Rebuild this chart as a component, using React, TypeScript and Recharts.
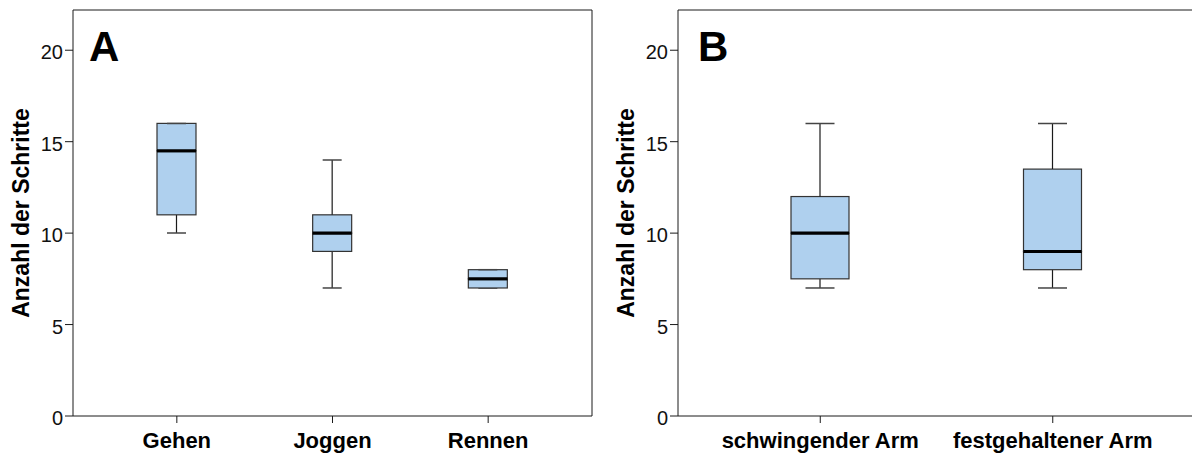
import { ComposedChart, Bar, XAxis, YAxis, CartesianGrid } from "recharts";

// Panel A: Gangart
const catsA = ["Gehen", "Joggen", "Rennen"];
const minA = [10, 7, 7];
const q1A = [11, 9, 7];
const medA = [14.5, 10, 7.5];
const q3A = [16, 11, 8];
const maxA = [16, 14, 8];

// Panel B: Armhaltung
const catsB = ["schwingender Arm", "festgehaltener Arm"];
const minB = [7, 7];
const q1B = [7.5, 8];
const medB = [10, 9];
const q3B = [12, 13.5];
const maxB = [16, 16];

const yTicks = [0, 5, 10, 15, 20];
const yLabel = "Anzahl der Schritte";

const FONT = 'Arial, "Liberation Sans", sans-serif';
const BOX_FILL = "#afd0ee";
const LINE = "#1a1a1a";

function buildRows(cats: string[], mn: number[], q1: number[], md: number[], q3: number[], mx: number[]) {
  return cats.map((name, i) => ({
    name,
    base: mn[i],
    lowW: q1[i] - mn[i],
    lowBox: md[i] - q1[i],
    highBox: q3[i] - md[i],
    highW: mx[i] - q3[i],
  }));
}

const rowsA = buildRows(catsA, minA, q1A, medA, q3A, maxA);
const rowsB = buildRows(catsB, minB, q1B, medB, q3B, maxB);

const emptyShape = () => <g />;

const lowWhisker = (capW: number) => (p: any) => {
  const cx = p.x + p.width / 2;
  const top = Math.min(p.y, p.y + p.height);
  const bot = Math.max(p.y, p.y + p.height);
  return (
    <g>
      <line x1={cx} x2={cx} y1={top} y2={bot} stroke={LINE} strokeWidth={1.2} />
      <line x1={cx - capW / 2} x2={cx + capW / 2} y1={bot} y2={bot} stroke="#444" strokeWidth={1.5} />
    </g>
  );
};

const highWhisker = (capW: number) => (p: any) => {
  const cx = p.x + p.width / 2;
  const top = Math.min(p.y, p.y + p.height);
  const bot = Math.max(p.y, p.y + p.height);
  return (
    <g>
      <line x1={cx} x2={cx} y1={top} y2={bot} stroke={LINE} strokeWidth={1.2} />
      <line x1={cx - capW / 2} x2={cx + capW / 2} y1={top} y2={top} stroke="#444" strokeWidth={1.5} />
    </g>
  );
};

const boxPart = (median: "top" | "bottom") => (p: any) => {
  const top = Math.min(p.y, p.y + p.height);
  const h = Math.abs(p.height);
  const my = median === "top" ? top : top + h;
  return (
    <g>
      <rect x={p.x} y={top} width={p.width} height={h} fill={BOX_FILL} stroke="#333" strokeWidth={1.2} />
      <line x1={p.x} x2={p.x + p.width} y1={my} y2={my} stroke="#000" strokeWidth={3} />
    </g>
  );
};

// frame: top edge and right edge of the plot area
const topEdge = ({ offset }: any) => [offset.top];
const rightEdge = ({ offset }: any) => [offset.left + offset.width];

function BoxPanel({ rows, boxW, capW, width }: { rows: any[]; boxW: number; capW: number; width: number }) {
  return (
    <ComposedChart width={width} height={454} data={rows} margin={{ top: 10, right: 8, bottom: 0, left: 0 }}>
      <CartesianGrid
        stroke={LINE}
        strokeWidth={1}
        horizontalCoordinatesGenerator={topEdge}
        verticalCoordinatesGenerator={rightEdge}
      />
      <XAxis
        dataKey="name"
        height={38}
        padding={{ left: 26, right: 26 }}
        stroke={LINE}
        tickSize={7}
        tickMargin={9}
        tick={{ fill: "#000", fontSize: 22, fontWeight: "bold", fontFamily: FONT }}
      />
      <YAxis
        width={73}
        domain={[0, 22.2]}
        ticks={yTicks}
        allowDataOverflow
        stroke={LINE}
        tickSize={8}
        tickMargin={2}
        tick={{ fill: "#111", fontSize: 20, fontFamily: FONT, dy: 2 }}
      />
      <Bar dataKey="base" stackId="b" barSize={boxW} shape={emptyShape} isAnimationActive={false} />
      <Bar dataKey="lowW" stackId="b" barSize={boxW} shape={lowWhisker(capW)} isAnimationActive={false} />
      <Bar dataKey="lowBox" stackId="b" barSize={boxW} shape={boxPart("top")} isAnimationActive={false} />
      <Bar dataKey="highBox" stackId="b" barSize={boxW} shape={boxPart("bottom")} isAnimationActive={false} />
      <Bar dataKey="highW" stackId="b" barSize={boxW} shape={highWhisker(capW)} isAnimationActive={false} />
    </ComposedChart>
  );
}

export default function App() {
  return (
    <div style={{ position: "absolute", left: 0, top: 0, width: 1192, height: 454, overflow: "hidden", background: "#fff" }}>
      <div style={{ position: "absolute", left: 0, top: 0 }}>
        <BoxPanel rows={rowsA} boxW={39} capW={19} width={600} />
      </div>
      <div style={{ position: "absolute", left: 605, top: 0 }}>
        <BoxPanel rows={rowsB} boxW={58} capW={29} width={598} />
      </div>
      <svg width={1192} height={454} style={{ position: "absolute", left: 0, top: 0, pointerEvents: "none" }}>
        <g fontFamily={FONT} fontWeight="bold" fill="#000">
          <text x={89} y={61} fontSize={42}>A</text>
          <text x={698} y={61} fontSize={42}>B</text>
          <text x={29} y={213} fontSize={23} textAnchor="middle" transform="rotate(-90 29 213)">{yLabel}</text>
          <text x={634} y={213} fontSize={23} textAnchor="middle" transform="rotate(-90 634 213)">{yLabel}</text>
        </g>
      </svg>
    </div>
  );
}
